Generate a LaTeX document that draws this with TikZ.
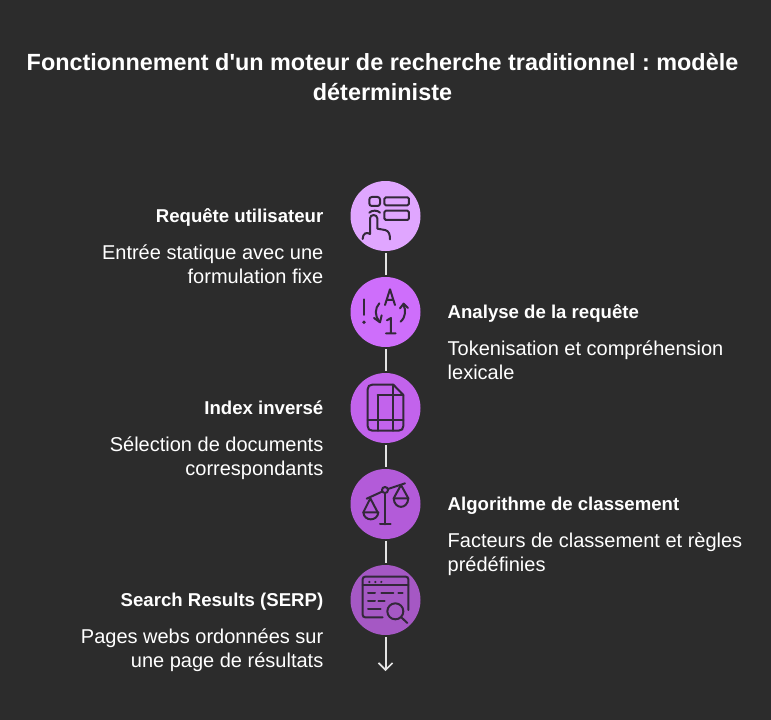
\documentclass[tikz,border=0pt]{standalone}
\usepackage{fontspec}
\setmainfont{Liberation Sans}
\newfontfamily\plainfont{Liberation Sans}
\frenchspacing
\usetikzlibrary{arrows.meta}
\definecolor{bgc}{HTML}{2C2C2C}
\definecolor{ink}{HTML}{33283A}
\definecolor{linec}{HTML}{E4E4E4}
\definecolor{ca}{HTML}{E0A6FF}
\definecolor{cb}{HTML}{CE6EFB}
\definecolor{cc}{HTML}{C263EC}
\definecolor{cd}{HTML}{B35BD9}
\definecolor{ce}{HTML}{A558C4}
\tikzset{
  x=1pt,y=-1pt,
  stepdisc/.style={circle,minimum size=70pt,inner sep=0pt,outer sep=2pt},
  headl/.style={anchor=base east,font=\fontsize{18.6}{22}\selectfont\bfseries,text=white,inner sep=0pt},
  headr/.style={anchor=base west,font=\fontsize{18.6}{22}\selectfont\bfseries,text=white,inner sep=0pt},
  bodyl/.style={anchor=north east,align=right,font=\fontsize{20}{24}\selectfont,text=white,inner sep=0pt},
  bodyr/.style={anchor=north west,align=left,font=\fontsize{20}{24}\selectfont,text=white,inner sep=0pt},
  link/.style={draw=linec,line width=2pt},
  icon/.style={draw=ink,line width=2pt,line cap=round,line join=round,fill=none},
  zoomed/.style={shift={(#1)},x=0.3333pt,y=-0.3333pt},
}
\begin{document}
\begin{tikzpicture}
\fill[bgc] (0,0) rectangle (771,720);
\useasboundingbox (0,0) rectangle (771,720);
\node[font=\plainfont\fontsize{23.4}{30}\selectfont\bfseries,text=white,align=center,inner sep=0pt,anchor=base] (title) at (382.5,100) {Fonctionnement d'un moteur de recherche traditionnel : modèle\\déterministe};

\node[stepdisc,fill=ca] (s1) at (385.5,216) {};
\node[stepdisc,fill=cb] (s2) at (385.5,312) {};
\node[stepdisc,fill=cc] (s3) at (385.5,408) {};
\node[stepdisc,fill=cd] (s4) at (385.5,504) {};
\node[stepdisc,fill=ce] (s5) at (385.5,600) {};
\coordinate (end) at (385.5,671);
\draw[link] (s1) -- (s2);
\draw[link] (s2) -- (s3);
\draw[link] (s3) -- (s4);
\draw[link] (s4) -- (s5);
\draw[link,-{Straight Barb[length=7pt,width=14pt,line width=1.6pt]}] (s5) -- (end);

\node[headl] (h1) at (323.5,222.5) {Requête utilisateur};
\node[bodyl] (b1) at (323.5,245) {Entrée statique avec une\\formulation fixe};
\node[headr] (h2) at (447.5,318.5) {Analyse de la requête};
\node[bodyr] (b2) at (447.5,341) {Tokenisation et compréhension\\lexicale};
\node[headl] (h3) at (323.5,414.5) {Index inversé};
\node[bodyl] (b3) at (323.5,437) {Sélection de documents\\correspondants};
\node[headr] (h4) at (447.5,510.5) {Algorithme de classement};
\node[bodyr] (b4) at (447.5,533) {Facteurs de classement et règles\\prédéfinies};
\node[headl] (h5) at (323.5,606.5) {Search Results (SERP)};
\node[bodyl] (b5) at (323.5,629) {Pages webs ordonnées sur\\une page de résultats};

% icon 1
\begin{scope}[zoomed={340,170}]
\draw[icon,rounded corners=2.5pt] (88,81) rectangle (120,108);
\draw[icon,rounded corners=1.5pt] (133,82) rectangle (207,106);
\draw[icon,rounded corners=1.5pt] (133,122) rectangle (207,150);
\draw[icon] (88,128) .. controls (95,120) and (113,120) .. (120,128);
\draw[icon] (68,207) .. controls (68,190) and (80,185) .. (90,192) -- (90,145) .. controls (90,132) and (112,132) .. (112,145) -- (112,176) -- (135,180) .. controls (148,183) and (150,195) .. (150,208);
% icon 2
\draw[icon] (72,388) -- (72,435);
\fill[ink] (72,457) circle (5.5);
\draw[icon] (135,405) -- (150,358) -- (165,405) (140,390) -- (160,390);
\draw[icon] (141,451) -- (153,444) -- (153,490) (138,490) -- (167,490);
\draw[icon] (118,400) .. controls (104,415) and (104,438) .. (118,455);
\draw[icon] (102,444) -- (120,457) -- (125,436);
\draw[icon] (182,455) .. controls (198,440) and (198,420) .. (190,403);
\draw[icon] (180,415) -- (191,401) -- (204,414);
\end{scope}
% icon 3
\begin{scope}[zoomed={340,340}]
\draw[icon] (160,134) -- (97,134) .. controls (88,134) and (83,139) .. (83,148) -- (83,258) .. controls (83,267) and (88,272) .. (97,272) -- (176,272) .. controls (185,272) and (190,267) .. (190,258) -- (190,165) -- (160,134);
\draw[icon] (160,134) -- (160,272) (113,165) -- (190,165) (113,165) -- (113,272) (83,240) -- (190,240);
\end{scope}
% icon 4
\begin{scope}[zoomed={345,465}]
\draw[icon] (120,75) circle (9);
\draw[icon] (65,101) -- (111,80) (129,72) -- (180,55);
\draw[icon] (120,84) -- (120,178) (105,178) -- (137,178);
\draw[icon] (55,142) -- (76,100) -- (98,142);
\draw[icon] (55,142) -- (100,142) .. controls (98,170) and (57,170) .. (55,142);
\draw[icon] (146,100) -- (168,60) -- (190,100);
\draw[icon] (146,100) -- (190,100) .. controls (188,134) and (148,134) .. (146,100);
\end{scope}
% icon 5
\begin{scope}[zoomed={340,510}]
\draw[icon,rounded corners=2.5pt] (128,322) -- (68,322) -- (68,200) -- (205,200) -- (205,300);
\draw[icon] (68,226) -- (205,226);
\fill[ink] (88,216) circle (3.5) (106,216) circle (3.5) (124,216) circle (3.5);
\draw[icon] (84,249) -- (105,249) (124,249) -- (160,249) (175,249) -- (188,249);
\draw[icon] (84,272) -- (105,272) (115,272) -- (134,272);
\draw[icon] (84,296) -- (122,296);
\draw[icon] (166,304) circle (24);
\draw[icon] (184,322) -- (202,339);
\end{scope}
\end{tikzpicture}
\end{document}
